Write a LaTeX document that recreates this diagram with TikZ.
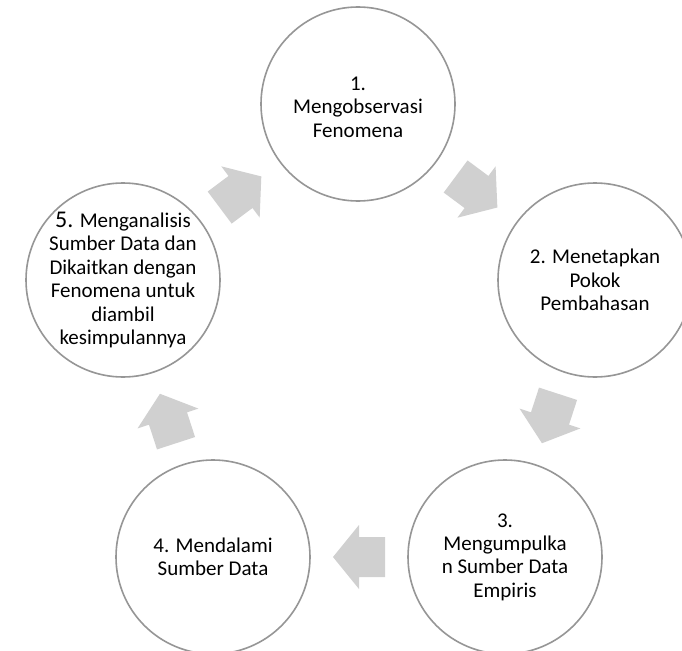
\documentclass[tikz,border=0pt]{standalone}
\usepackage{fontspec}
\setmainfont{Carlito}
\usetikzlibrary{calc}
\definecolor{ringgray}{RGB}{150,150,150}
\definecolor{arrowgray}{RGB}{208,208,208}
\tikzset{
  stepcircle/.style={circle, draw=ringgray, line width=1.6pt, minimum size=194pt, inner sep=0pt},
  steptext/.style={align=center, font=\fontsize{21}{23.4}\selectfont, text=black},
  blockarrow/.style={fill=arrowgray, draw=none}
}
\newcommand\cycarrow[3]{%
  \begin{scope}[shift={($(#1)!0.5!(#2)$)}, rotate=#3]
    \fill[blockarrow] (-26,-20) -- (0,-20) -- (0,-32) -- (26,0) -- (0,32) -- (0,20) -- (-26,20) -- cycle;
  \end{scope}}
\begin{document}
\begin{tikzpicture}[x=1pt,y=-1pt]
  \fill[white] (0,0) rectangle (682,650);
  \useasboundingbox (0,0) rectangle (682,650);
  \clip (0,0) rectangle (682,650);
  \node[stepcircle] (c1) at (358,104) {};
  \node[stepcircle] (c2) at (595,280) {};
  \node[stepcircle] (c3) at (505,557) {};
  \node[stepcircle] (c4) at (213,557) {};
  \node[stepcircle] (c5) at (123,280) {};
  \node[steptext] (t1) at ([yshift=-3pt]c1) {1.\\Mengobservasi\\Fenomena};
  \node[steptext] (t2) at (c2) {2. Menetapkan\\Pokok\\Pembahasan};
  \node[steptext] (t3) at (c3) {3.\\Mengumpulka\\n Sumber Data\\Empiris};
  \node[steptext] (t4) at (c4) {4. Mendalami\\Sumber Data};
  \node[steptext] (t5) at (c5) {{\fontsize{24}{23.4}\selectfont 5.} Menganalisis\\Sumber Data dan\\Dikaitkan dengan\\Fenomena untuk\\diambil\\kesimpulannya};
  \cycarrow{c1}{c2}{-36.6}
  \cycarrow{c2}{c3}{-108}
  \cycarrow{c3}{c4}{180}
  \cycarrow{c4}{c5}{108}
  \cycarrow{c5}{c1}{36.8}
\end{tikzpicture}
\end{document}
